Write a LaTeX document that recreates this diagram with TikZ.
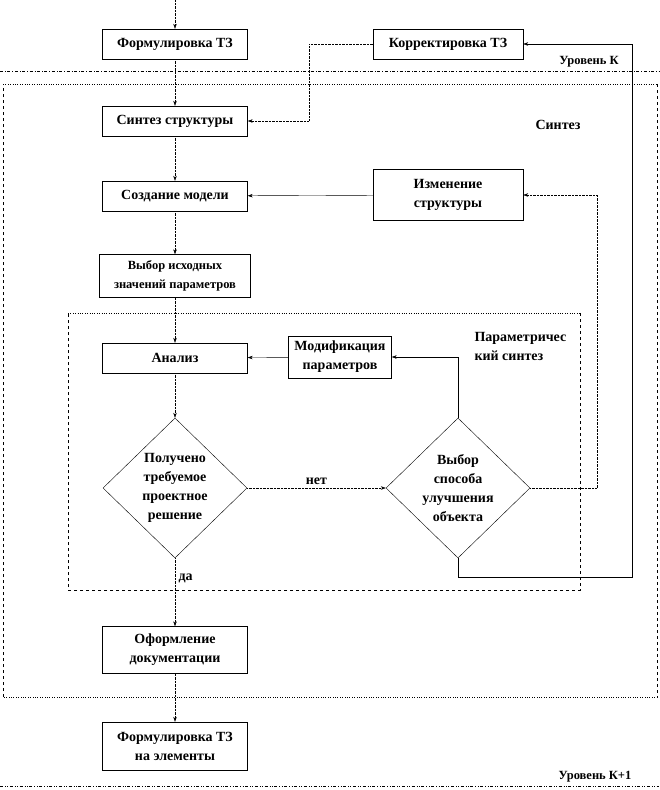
\documentclass[tikz,border=0pt]{standalone}
\usepackage{fontspec}
\setmainfont{Liberation Serif}
\usetikzlibrary{shapes, positioning, arrows.meta, calc}

\begin{document}
\begin{tikzpicture}[
    x=1pt, y=-1pt,
    thin,
    >={Stealth[length=5pt, width=3.5pt]},
    font=\fontsize{14}{19}\selectfont\bfseries,
    block/.style={draw, rectangle, minimum width=145pt, minimum height=30pt, align=center, inner sep=2pt},
    decision/.style={draw, diamond, minimum width=144pt, minimum height=140pt, aspect=1, align=center, inner sep=-6pt},
    flow/.style={->, densely dotted},
    link/.style={->},
    level/.style={dash dot},
    note/.style={font=\fontsize{12.5}{14}\selectfont\bfseries}
]
    \useasboundingbox (0,0) rectangle (659,790);

    % Levels
    \draw[level] (0,71) -- (659,71);
    \node[note] (lvlk) at (589,62) {Уровень К};
    \draw[dash dot dot] (0,786) -- (659,786);
    \node[note] (lvlk1) at (595,777) {Уровень К+1};

    % Synthesis frame
    \draw[dotted] (3,84) -- (657,84);
    \draw[dashed] (657,84) -- (657,697);
    \draw[dotted] (657,697) -- (3,697);
    \draw[dashed] (3,697) -- (3,84);
    \node (synlbl) at (558,125) {Синтез};

    % Parametric synthesis frame
    \draw[dotted] (68,313) -- (580,313);
    \draw[dashed] (580,313) -- (580,590) -- (68,590) -- (68,313);
    \node[anchor=west, align=left] (parlbl) at (471,346) {Параметричес\\кий синтез};

    % Blocks
    \node[block] (ftz) at (175,44) {Формулировка ТЗ};
    \node[block, minimum width=150pt] (ktz) at (448,44) {Корректировка ТЗ};
    \node[block] (sst) at (175,121) {Синтез структуры};
    \node[block] (smod) at (175,196) {Создание модели};
    \node[block, minimum width=150pt, minimum height=51pt] (izm) at (448,195) {Изменение\\структуры};
    \node[block, minimum width=151pt, minimum height=43pt, font=\fontsize{12.5}{19}\selectfont\bfseries] (vyb) at (175,276) {Выбор исходных\\значений параметров};
    \node[block] (an) at (175,358) {Анализ};
    \node[block, minimum width=103pt, minimum height=42pt, inner sep=0pt] (mod) at (340,357) {Модификация\\параметров};
    \node[decision] (res) at (175,488) {Получено\\требуемое\\проектное\\решение};
    \node[decision] (spos) at (458,488) {Выбор\\способа\\улучшения\\объекта};
    \node[block, minimum height=47pt] (doc) at (175,650) {Оформление\\документации};
    \node[block, minimum height=48pt] (tzel) at (175,746) {Формулировка ТЗ\\на элементы};

    % Connections
    \coordinate (start) at (175,0);
    \coordinate (back) at (632,577);
    \draw[flow] (start) -- (ftz);
    \draw[flow] (ftz) -- (sst);
    \draw[flow] (ktz.west) -- ++(-64,0) |- (sst.east);
    \draw[flow] (sst) -- (smod);
    \draw[link] (izm) -- (smod);
    \draw[flow] (smod) -- (vyb);
    \draw[flow] (vyb) -- (an);
    \draw[flow] (an) -- (res);
    \draw[link] (mod) -- (an);
    \draw[flow] (res) -- node[above] {нет} (spos);
    \draw[link] (spos.north) |- (mod.east);
    \draw[flow] (spos.east) -- ++(67,0) |- (izm.east);
    \draw[link] (spos.south) |- (back) |- (ktz.east);
    \draw[flow] (res) -- node[pos=0.3, right] {да} (doc);
    \draw[flow] (doc) -- (tzel);

\end{tikzpicture}
\end{document}
